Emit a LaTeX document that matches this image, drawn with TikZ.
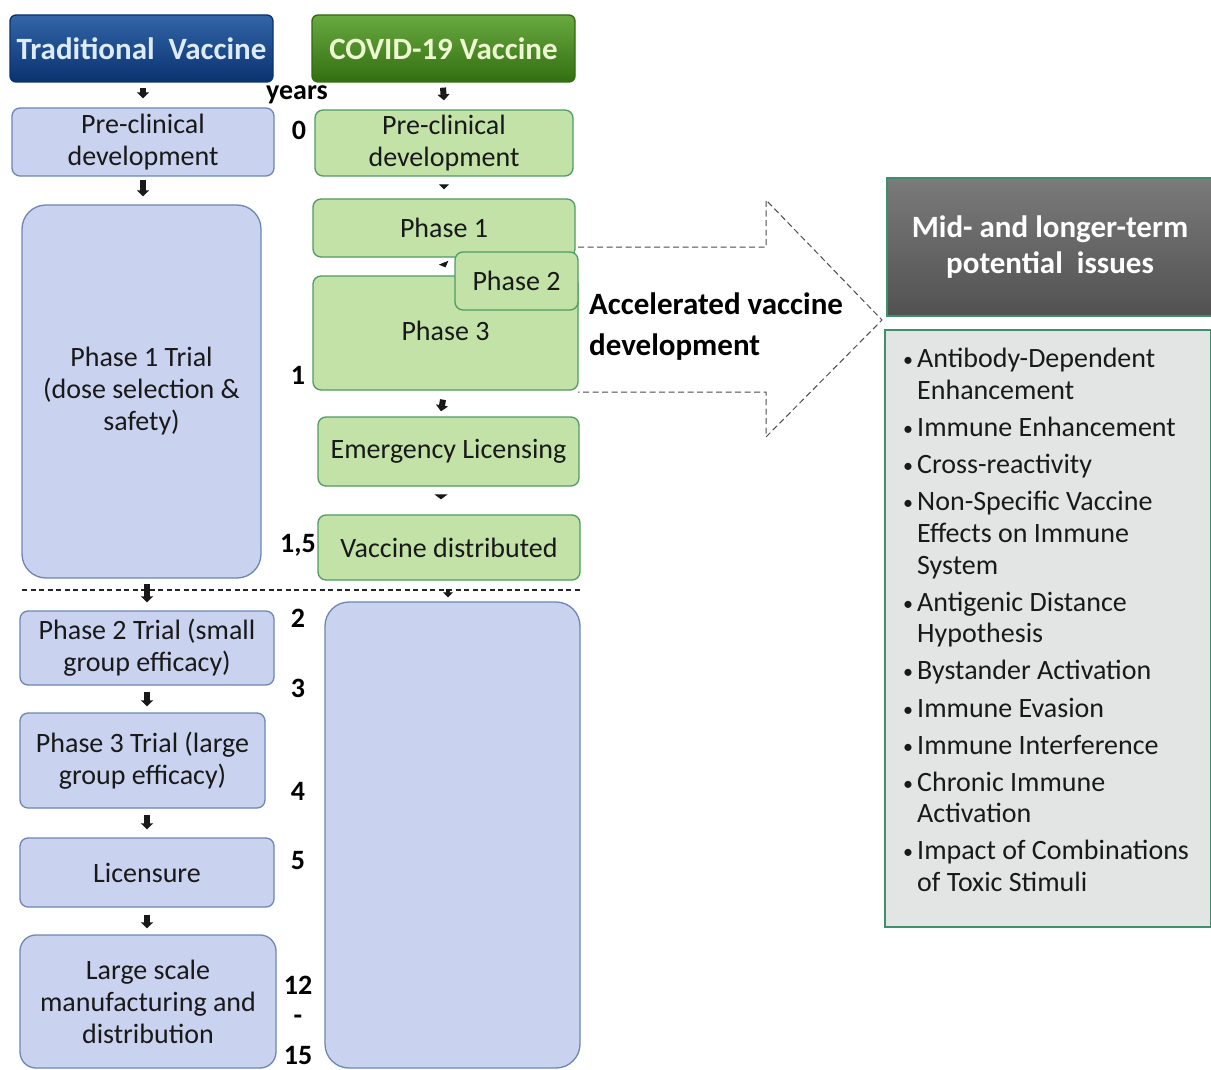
\documentclass[tikz,border=0pt]{standalone}
\usepackage{fontspec}
\setmainfont{Carlito}
\usetikzlibrary{arrows.meta}
\definecolor{bfill}{HTML}{C9D2EE}
\definecolor{bline}{HTML}{6C87B4}
\definecolor{gfill}{HTML}{C2E2A8}
\definecolor{gline}{HTML}{4F9C62}
\definecolor{tblue}{HTML}{0E4A98}
\definecolor{tblueD}{HTML}{0A3270}
\definecolor{cgreen}{HTML}{4E9A1E}
\definecolor{cgreenD}{HTML}{2F6A10}
\definecolor{teal}{HTML}{3E8F6C}
\definecolor{lgray}{HTML}{E3E5E4}
\newcommand{\bul}{\makebox[14pt][l]{\raisebox{1pt}{\fontsize{20}{20}\selectfont\textbullet}}}
\tikzset{
  bbox/.style={draw=bline, fill=bfill, line width=1.3pt, rounded corners=8pt, inner sep=0pt, align=center, font=\fontsize{28}{32}\selectfont, text=black!90},
  gbox/.style={draw=gline, fill=gfill, line width=1.3pt, rounded corners=8pt, inner sep=0pt, align=center, font=\fontsize{28}{32}\selectfont, text=black!90},
  hdr/.style={line width=1.3pt, rounded corners=6pt, inner sep=0pt, align=center, font=\fontsize{31}{34}\selectfont\bfseries},
  yr/.style={font=\fontsize{28}{30}\selectfont\bfseries, inner sep=0pt},
  dn/.style={-{Triangle[width=12pt,length=6pt]}, line width=6pt, black!90},
  dnsm/.style={-{Triangle[width=10pt,length=5pt]}, line width=3.5pt, black!90},
  li/.style={anchor=base west, inner sep=0pt, font=\fontsize{28}{32}\selectfont, text=black!90},
}
\begin{document}
\begin{tikzpicture}[x=1pt,y=-1pt]
\fill[white] (0,0) rectangle (1211,1070);
\useasboundingbox (0,0) rectangle (1211,1070);

% big dashed arrow
\draw[dash pattern=on 6pt off 3.5pt, black!70, line width=1pt, fill=white]
  (578,247) -- (766,247) -- (766,200) -- (882,320) -- (766,437) -- (766,392) -- (578,392);

% headers
\node[hdr, draw=tblueD, top color=tblue!85!white, bottom color=tblueD,
  minimum width=263pt, minimum height=67pt] (hdrT) at (141.5,48.5) {\textcolor[HTML]{DDEBFA}{Traditional\ \ Vaccine}};
\node[hdr, draw=cgreenD, top color=cgreen!85!white, bottom color=cgreenD!90!cgreen,
  minimum width=263pt, minimum height=67pt] (hdrC) at (443.5,48.5) {\textcolor[HTML]{EEF6D2}{COVID-19 Vaccine}};

% left column
\node[bbox, minimum width=262pt, minimum height=68pt] (preT) at (143,142) {Pre-clinical\\development};
\node[bbox, rounded corners=24pt, minimum width=239pt, minimum height=373pt] (p1T) at (141.5,391.5) {Phase 1 Trial\\(dose selection \&\\safety)};
\node[bbox, minimum width=254pt, minimum height=74pt] (p2T) at (147,648) {Phase 2 Trial (small\\group efficacy)};
\node[bbox, minimum width=245pt, minimum height=95pt] (p3T) at (142.5,760.5) {Phase 3 Trial (large\\group efficacy)};
\node[bbox, minimum width=254pt, minimum height=69pt] (licT) at (147,872.5) {Licensure};
\node[bbox, rounded corners=16pt, minimum width=256pt, minimum height=133pt] (lsT) at (148,1001.5) {Large scale\\manufacturing and\\distribution};

% right column
\node[gbox, minimum width=258pt, minimum height=66pt] (preC) at (444,143) {Pre-clinical\\development};
\node[gbox, minimum width=262pt, minimum height=58pt] (p1C) at (444,228) {Phase 1};
\node[gbox, minimum width=265pt, minimum height=114pt] (p3C) at (445.5,333) {\raisebox{4pt}{Phase 3}\hspace*{0pt}};
\node[gbox, minimum width=123pt, minimum height=58pt] (p2C) at (516.5,281) {Phase 2};
\node[gbox, minimum width=261pt, minimum height=69pt] (emC) at (448.5,451.5) {Emergency Licensing};
\node[gbox, minimum width=262pt, minimum height=65pt] (vdC) at (449,547.5) {Vaccine distributed};
\node[draw=bline, fill=bfill, line width=1.3pt, rounded corners=24pt, minimum width=255pt, minimum height=466pt, inner sep=0pt] (blank) at (452.5,835) {};

% dashed separator
\coordinate (sepL) at (22,590);
\coordinate (sepR) at (580,590);
\draw[dash pattern=on 5pt off 3.5pt, black!85, line width=1.1pt] (sepL) -- (sepR);

% arrows
\draw[dn] ([yshift=-5pt,xshift=1.5pt]hdrT.south) -- ([yshift=9pt]preT.north);
\draw[dn] ([yshift=-5pt,xshift=-0.5pt]hdrC.south) -- ([yshift=9pt]preC.north);
\draw[dn] ([yshift=-3pt]preT.south) -- ([yshift=8pt,xshift=1.5pt]p1T.north);
\draw[dnsm] ([yshift=-8pt]preC.south) -- ([yshift=9pt]p1C.north);
\draw[dnsm] ([yshift=-6pt]p1C.south) -- ([yshift=8pt]p3C.north);
\draw[dn] ([yshift=-9pt,xshift=-2.5pt]p3C.south) -- ([yshift=5pt,xshift=-7.5pt]emC.north);
\draw[-{Triangle[width=13pt,length=5pt]}, line width=6pt, black!90] ([yshift=-9pt,xshift=-7.5pt]emC.south) -- ([yshift=15pt,xshift=-8pt]vdC.north);
\draw[dn] ([yshift=-5pt,xshift=5.5pt]p1T.south) -- ([yshift=8pt]p2T.north);
\draw[dnsm] ([yshift=12pt,xshift=-4.5pt]blank.north) -- ([yshift=4pt,xshift=-4.5pt]blank.north);
\draw[dn] ([yshift=-6pt]p2T.south) -- ([yshift=6pt,xshift=4.5pt]p3T.north);
\draw[dn] ([yshift=-6pt,xshift=4.5pt]p3T.south) -- ([yshift=8pt]licT.north);
\draw[dn] ([yshift=-7pt]licT.south) -- ([yshift=6pt,xshift=-1pt]lsT.north);

% years
\node[yr] (yrs) at (297,95) {years};
\node[yr] (y0) at (299,130) {0};
\node[yr] (y1) at (298,375) {1};
\node[yr] (y15) at (298,545) {1,5};
\node[yr] (y2) at (298,618) {2};
\node[yr] (y3) at (298,688) {3};
\node[yr] (y4) at (298,791) {4};
\node[yr] (y5) at (298,861) {5};
\node[yr] (y12) at (298,985) {12};
\node[yr] (ydash) at (298,1020) {-};
\node[yr] (y1515) at (298,1055) {15};

% accelerated
\node[anchor=west, align=left, inner sep=0pt, font=\fontsize{31}{41}\selectfont\bfseries] (acc) at (589,327) {Accelerated vaccine\\development};

% right header and list
\node[draw=teal, line width=1.5pt, top color=black!52, bottom color=black!68, minimum width=326pt, minimum height=138pt, inner sep=0pt, align=center, font=\fontsize{31}{36}\selectfont\bfseries, text=white] (issues) at (1050,247) {Mid- and longer-term\\potential\ \ issues};
\node[draw=teal, line width=1.5pt, fill=lgray, minimum width=326pt, minimum height=597pt, inner sep=0pt] (list) at (1048,628.5) {};

\node[li] (i1) at (903,367) {\bul Antibody-Dependent};
\node[li] (i1b) at (917,399) {Enhancement};
\node[li] (i2) at (903,436) {\bul Immune Enhancement};
\node[li] (i3) at (903,473) {\bul Cross-reactivity};
\node[li] (i4) at (903,510) {\bul Non-Specific Vaccine};
\node[li] (i4b) at (917,542) {Effects on Immune};
\node[li] (i4c) at (917,574) {System};
\node[li] (i5) at (903,611) {\bul Antigenic Distance};
\node[li] (i5b) at (917,642) {Hypothesis};
\node[li] (i6) at (903,679) {\bul Bystander Activation};
\node[li] (i7) at (903,717) {\bul Immune Evasion};
\node[li] (i8) at (903,754) {\bul Immune Interference};
\node[li] (i9) at (903,791) {\bul Chronic Immune};
\node[li] (i9b) at (917,822) {Activation};
\node[li] (i10) at (903,859) {\bul Impact of Combinations};
\node[li] (i10b) at (917,891) {of Toxic Stimuli};
\end{tikzpicture}
\end{document}
